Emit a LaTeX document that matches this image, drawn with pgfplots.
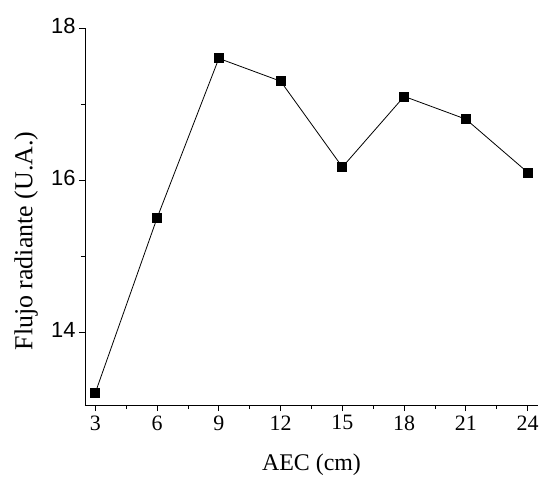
\documentclass[border=0pt]{standalone}
\usepackage{fontspec}
\setmainfont{Liberation Serif}
\newfontfamily\arialfont{Liberation Sans}
\usepackage{pgfplots}
\pgfplotsset{compat=1.18}
\begin{document}
\begin{tikzpicture}
\begin{axis}[
  name=ax,
  scale only axis,
  width=453bp, height=377bp,
  xmin=2.5, xmax=24.5,
  ymin=13.04, ymax=18,
  axis x line*=bottom, axis y line*=left,
  axis line style={line width=0.9bp},
  xtick={3,6,...,24},
  ytick={14,16,18},
  minor x tick num=1,
  minor y tick num=1,
  tick align=outside,
  major tick length=6bp,
  minor tick length=4bp,
  tick style={line width=0.9bp, black},
  /pgf/number format/assume math mode=true,
  xticklabel style={font=\fontsize{22}{22}\selectfont, yshift=-1bp},
  yticklabel style={font=\arialfont\fontsize{22}{22}\selectfont, yshift=2bp},
  xlabel={AEC (cm)},
  ylabel={Flujo radiante (U.A.)},
  xlabel style={font=\fontsize{24}{24}\selectfont, at={(axis description cs:0.5,-0.159)}, anchor=center},
  ylabel style={font=\fontsize{26}{26}\selectfont, at={(axis description cs:-0.13,0.435)}, anchor=center},
  clip=false,
]
\addplot[black, line width=0.8bp, mark=square*, mark size=4.5bp, mark options={solid}] coordinates {
(3,13.2) (6,15.5) (9,17.6) (12,17.3) (15,16.17) (18,17.1) (21,16.8) (24,16.1)
};
\end{axis}
\useasboundingbox ([xshift=-85bp,yshift=-76bp]ax.south west) rectangle ([xshift=4bp,yshift=28bp]ax.north east);
\end{tikzpicture}
\end{document}
